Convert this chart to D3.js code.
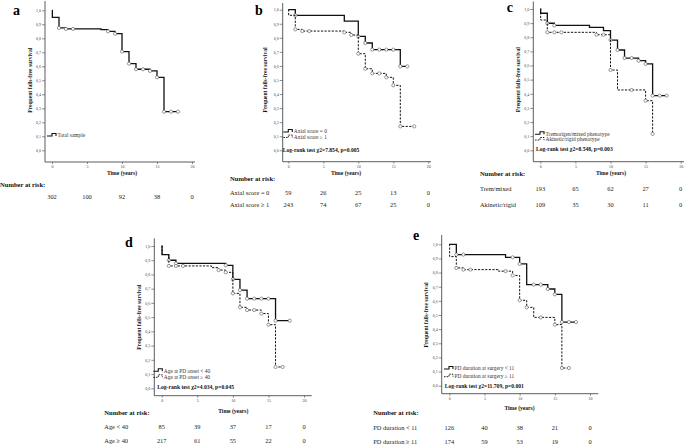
<!DOCTYPE html>
<html><head><meta charset="utf-8">
<script src="https://cdn.jsdelivr.net/npm/d3@7"></script>
<style>body{margin:0;background:#fff}svg{display:block}text{font-family:"Liberation Serif","Times New Roman",serif}</style>
</head><body><svg id="chart" width="690" height="446"></svg>
<script>
// ---- data ----
const timeTicks=[0,5,10,15,20];
const survTicks=[0,0.1,0.2,0.3,0.4,0.5,0.6,0.7,0.8,0.9,1.0];
const riskTimes=[0,5,10,15,20];

// panel a
const aTotalSteps=[[0,1],[0.05,0.95],[1,0.874],[2,0.867],[7,0.862],[8,0.85],[9,0.833],[10,0.705],[11,0.619],[12,0.579],[14,0.567],[15,0.521],[16,0.276]];
const aTotalCensor=[1,2,3,8,9,10,11,12,13,14,15,16,17,18];
const aRisk=[302,100,92,38,0];

// panel b
const bAx0Steps=[[0,1],[1,0.96],[8,0.919],[10,0.81],[11,0.763],[12,0.716],[16,0.597]];
const bAx0Censor=[1,10,11,12,13,14,15,16,17];
const bAx1Steps=[[0,1],[0.05,0.96],[1,0.86],[2,0.848],[8,0.839],[9,0.82],[10,0.687],[11,0.58],[12,0.547],[14,0.519],[15,0.462],[16,0.17]];
const bAx1Censor=[1,2,3,8,9,10,11,12,13,14,15,16,18];
const bRisk0=[59,26,25,13,0];
const bRisk1=[243,74,67,25,0];

// panel c
const cTremSteps=[[0,1],[0.05,0.97],[1,0.899],[2,0.884],[7,0.87],[9,0.847],[10,0.78],[11,0.71],[12,0.653],[14,0.634],[15,0.611],[16,0.387]];
const cTremCensor=[1,2,10,11,12,13,14,15,16,17,18];
const cAkinSteps=[[0,1],[0.05,0.922],[1,0.835],[8,0.818],[10,0.568],[11,0.427],[15,0.351],[16,0.116]];
const cAkinCensor=[1,2,3,8,9,10,13,15,16];
const cRisk0=[193,65,62,27,0];
const cRisk1=[109,35,30,11,0];

// panel d
const dYoungSteps=[[0,1],[0.05,0.94],[1,0.90],[2,0.878],[9,0.864],[10,0.766],[11,0.69],[12,0.63],[16,0.475]];
const dYoungCensor=[1,2,9,10,11,12,13,14,15,16,18];
const dOldSteps=[[0,1],[0.05,0.94],[1,0.86],[7,0.848],[8,0.831],[9,0.815],[10,0.667],[11,0.569],[12,0.55],[14,0.525],[15,0.447],[16,0.15]];
const dOldCensor=[1,2,3,8,9,10,11,12,13,14,15,16,17];
const dRisk0=[85,39,37,17,0];
const dRisk1=[217,61,55,22,0];

// panel e
const eShortSteps=[[0,1],[1,0.927],[8,0.908],[10,0.861],[11,0.715],[14,0.684],[15,0.646],[16,0.45]];
const eShortCensor=[1,2,9,10,12,13,14,15,16,17,18];
const eLongSteps=[[0,1],[0.05,0.913],[1,0.833],[2,0.821],[7,0.81],[9,0.78],[10,0.604],[11,0.554],[12,0.483],[15,0.432],[16,0.125]];
const eLongCensor=[1,2,3,8,9,10,11,13,15,16,17];
const eRisk0=[126,40,38,21,0];
const eRisk1=[174,59,53,19,0];

// ---- layout / drawing ----
const svg=d3.select("#chart");
const panels=[
 {letter:"a",lx:13,ly:15,x0:52,x20:192,y0:150.3,y1:10.3,axY:162,axX:45,axR:195,axT:1,ylabX:30,
  timeX:122,timeY:175,
  series:[{steps:aTotalSteps,censor:aTotalCensor,dash:false,label:"Total sample"}],
  legX:47,legY:[136],lrText:null,
  nar:{x:0,y:186.5,rows:[{label:null,vals:aRisk,y:199}]}},
 {letter:"b",lx:255,ly:15,x0:288.3,x20:428.3,y0:150.3,y1:9.7,axY:161.7,axX:282.7,axR:431,axT:3,ylabX:265,
  timeX:346,timeY:175,
  series:[{steps:bAx0Steps,censor:bAx0Censor,dash:false,label:"Axial score = 0"},
          {steps:bAx1Steps,censor:bAx1Censor,dash:true,label:"Axial score \u2265 1"}],
  legX:283.3,legY:[132,137.5],lrText:"Log-rank test \u03C72=7.854, p=0.005",lrX:282.7,lrY:152,
  nar:{x:230,y:181,rows:[{label:"Axial score = 0",vals:bRisk0,y:194.5},{label:"Axial score \u2265 1",vals:bRisk1,y:206.5}]}},
 {letter:"c",lx:506.7,ly:11.5,x0:540.3,x20:680.7,y0:150.3,y1:9,axY:161.7,axX:533.3,axR:684,axT:1.5,ylabX:518.3,
  timeX:611,timeY:174.5,
  series:[{steps:cTremSteps,censor:cTremCensor,dash:false,label:"Tremorigen/mixed phenotype"},
          {steps:cAkinSteps,censor:cAkinCensor,dash:true,label:"Akinetic/rigid phenotype"}],
  legX:535,legY:[134.3,140],lrText:"Log-rank test \u03C72=8.548, p=0.003",lrX:536,lrY:151,
  nar:{x:480,y:176,rows:[{label:"Trem/mixed",vals:cRisk0,y:191},{label:"Akinetic/rigid",vals:cRisk1,y:206.5}]}},
 {letter:"d",lx:125,ly:246.7,x0:161.7,x20:304,y0:388.3,y1:246,axY:395.7,axX:154.3,axR:311.7,axT:238.3,ylabX:139.3,
  timeX:233.3,timeY:412.7,
  series:[{steps:dYoungSteps,censor:dYoungCensor,dash:false,label:"Age at PD onset < 40"},
          {steps:dOldSteps,censor:dOldCensor,dash:true,label:"Age at PD onset \u2265 40"}],
  legX:153.3,legY:[371.3,377.3],lrText:"Log-rank test \u03C72=4.034, p=0.045",lrX:157.3,lrY:388.8,
  nar:{x:104.3,y:414.5,rows:[{label:"Age < 40",vals:dRisk0,y:429},{label:"Age \u2265 40",vals:dRisk1,y:443}]}},
 {letter:"e",lx:413,ly:239.5,x0:449.3,x20:590,y0:385.7,y1:244.3,axY:393.7,axX:441.7,axR:598.3,axT:235,ylabX:425.7,
  timeX:519.5,timeY:410.3,
  series:[{steps:eShortSteps,censor:eShortCensor,dash:false,label:"PD duration at surgery < 11"},
          {steps:eLongSteps,censor:eLongCensor,dash:true,label:"PD duration at surgery \u2265 11"}],
  legX:444,legY:[369,376.7],lrText:"Log-rank test \u03C72=11.709, p=0.001",lrX:444.7,lrY:387.8,
  nar:{x:373.3,y:415,rows:[{label:"PD duration < 11",vals:eRisk0,y:430},{label:"PD duration \u2265 11",vals:eRisk1,y:444}]}}
];

const fmtY=d=>d3.format(".1f")(d).replace(".",",");

panels.forEach(p=>{
  const g=svg.append("g");
  const x=d3.scaleLinear().domain([0,20]).range([p.x0,p.x20]);
  const y=d3.scaleLinear().domain([0,1]).range([p.y0,p.y1]);

  g.append("line").attr("x1",p.axX).attr("x2",p.axX).attr("y1",p.axT).attr("y2",p.axY)
    .attr("stroke","#333").attr("stroke-width",0.8);
  g.append("line").attr("x1",p.axX).attr("x2",p.axR).attr("y1",p.axY).attr("y2",p.axY)
    .attr("stroke","#333").attr("stroke-width",0.8);

  const ya=d3.axisLeft(y).tickValues(survTicks).tickFormat(fmtY).tickSize(3).tickPadding(1);
  const yg=g.append("g").attr("transform",`translate(${p.axX},0)`).call(ya);
  const xa=d3.axisBottom(x).tickValues(timeTicks).tickSize(2).tickPadding(1.5);
  const xg=g.append("g").attr("transform",`translate(0,${p.axY})`).call(xa);
  [yg,xg].forEach(a=>{
    a.select(".domain").remove();
    a.selectAll(".tick line").attr("stroke","#444").attr("stroke-width",0.6);
    a.selectAll(".tick text").attr("font-size",4).attr("fill","#444")
      .attr("font-family","Liberation Serif, serif");
  });

  p.series.forEach(s=>{
    const last=s.steps[s.steps.length-1];
    const tEnd=Math.max(d3.max(s.censor),last[0]);
    const pts=s.steps.concat([[tEnd,last[1]]]);
    const line=d3.line().x(d=>x(d[0])).y(d=>y(d[1])).curve(d3.curveStepAfter);
    g.append("path").attr("d",line(pts)).attr("fill","none")
      .attr("stroke","#111").attr("stroke-width",s.dash?1:1.3)
      .attr("stroke-dasharray",s.dash?"2.2,1.4":null);
    const lookup=t=>{let v=1;s.steps.forEach(st=>{if(st[0]<=t)v=st[1];});return v;};
    g.selectAll(null).data(s.censor).enter().append("circle")
      .attr("cx",d=>x(d)).attr("cy",d=>y(lookup(d))).attr("r",1.6)
      .attr("fill","#fff").attr("stroke","#555").attr("stroke-width",0.6);
  });

  p.series.forEach((s,i)=>{
    const lx=p.legX, ly=p.legY[i];
    g.append("path").attr("d",`M${lx},${ly} h5 v-2.5 h4 v2.5`).attr("fill","none")
      .attr("stroke","#111").attr("stroke-width",s.dash?0.9:1.1)
      .attr("stroke-dasharray",s.dash?"1.6,1":null);
    g.append("text").attr("x",lx+10.5).attr("y",ly+1.3).attr("font-size",5.4).attr("fill","#333")
      .text(s.label);
  });
  if(p.lrText){
    g.append("text").attr("x",p.lrX).attr("y",p.lrY).attr("font-size",5.6).attr("font-weight","bold")
      .attr("fill","#111").text(p.lrText);
  }

  g.append("text").attr("transform",`translate(${p.ylabX},${y(0.5)}) rotate(-90)`)
    .attr("text-anchor","middle").attr("dominant-baseline","central")
    .attr("font-size",5.6).attr("font-weight","bold").attr("fill","#111")
    .text("Frequent falls-free survival");
  g.append("text").attr("x",p.timeX).attr("y",p.timeY).attr("text-anchor","middle")
    .attr("font-size",5.6).attr("font-weight","bold").attr("fill","#111").text("Time (years)");

  g.append("text").attr("x",p.lx).attr("y",p.ly).attr("font-size",14).attr("font-weight","bold")
    .attr("fill","#000").text(p.letter);

  g.append("text").attr("x",p.nar.x).attr("y",p.nar.y).attr("font-size",6.6).attr("font-weight","bold")
    .attr("fill","#111").text("Number at risk:");
  p.nar.rows.forEach(r=>{
    if(r.label) g.append("text").attr("x",p.nar.x).attr("y",r.y).attr("font-size",6.4).attr("fill","#222").text(r.label);
    g.selectAll(null).data(r.vals).enter().append("text")
      .attr("x",(d,i)=>x(riskTimes[i])).attr("y",r.y).attr("text-anchor","middle")
      .attr("font-size",6.4).attr("fill","#222").text(d=>d);
  });
});
</script></body></html>
